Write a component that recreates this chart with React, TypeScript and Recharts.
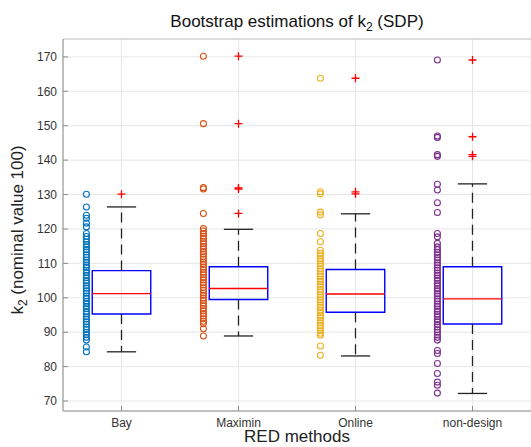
import React from 'react';
import {
  ComposedChart, Scatter, XAxis, YAxis, CartesianGrid, ReferenceArea, ReferenceLine,
} from 'recharts';

const CATEGORIES = ['Bay', 'Maximin', 'Online', 'non-design'];
const POINT_COLORS = ['#0072BD', '#D95319', '#EDB120', '#7E2F8E'];
const Y_TICKS = [70, 80, 90, 100, 110, 120, 130, 140, 150, 160, 170];

// bootstrap samples (circles left of each box)
const bayValues = [
  130.1, 126.4, 124.0, 123.1, 121.7, 120.6, 118.7, 117.8, 117.0, 116.3, 115.5, 114.8, 114.0,
  113.3, 112.5, 111.8, 111.0, 110.3, 109.5, 108.8, 108.0, 107.3, 106.5, 105.8, 105.0, 104.3,
  103.5, 102.8, 102.0, 101.3, 100.5, 99.8, 99.0, 98.3, 97.5, 96.8, 96.0, 95.3, 94.5, 93.8,
  93.0, 92.3, 91.5, 90.8, 90.0, 89.3, 88.5, 87.7, 85.7, 84.3,
];
const maximinValues = [
  170.2, 150.6, 132.0, 131.6, 124.5, 120.1, 119.4, 118.7, 117.9, 117.2, 116.4, 115.7, 114.9,
  114.2, 113.4, 112.7, 111.9, 111.2, 110.4, 109.7, 108.9, 108.2, 107.4, 106.7, 105.9, 105.2,
  104.4, 103.7, 102.9, 102.2, 101.4, 100.7, 99.9, 99.2, 98.4, 97.7, 96.9, 96.2, 95.4, 94.7,
  93.9, 93.2, 92.5, 91.0, 88.9,
];
const onlineValues = [
  163.8, 130.8, 130.2, 124.9, 124.1, 118.7, 116.3, 113.8, 112.9, 112.2, 111.4, 110.7, 109.9,
  109.2, 108.4, 107.7, 106.9, 106.2, 105.4, 104.7, 103.9, 103.2, 102.4, 101.7, 100.9, 100.2,
  99.4, 98.7, 97.9, 97.2, 96.4, 95.7, 94.9, 94.2, 93.4, 92.7, 91.9, 91.2, 90.4, 89.7, 89.1,
  86.0, 83.3,
];
const nonDesignValues = [
  169.1, 147.0, 146.6, 141.6, 141.1, 133.0, 131.3, 127.6, 124.8, 118.7, 117.7, 115.8, 114.8,
  114.0, 113.2, 112.5, 111.7, 111.0, 110.2, 109.5, 108.7, 108.0, 107.2, 106.5, 105.7, 105.0,
  104.2, 103.5, 102.7, 102.0, 101.2, 100.5, 99.7, 99.0, 98.2, 97.5, 96.7, 96.0, 95.2, 94.5,
  93.7, 93.0, 92.2, 91.5, 90.7, 90.0, 89.2, 88.5, 87.7, 84.7, 83.8, 80.9, 78.0, 75.5, 74.6, 72.3,
];
const SAMPLES = [bayValues, maximinValues, onlineValues, nonDesignValues];

// box statistics
const lowerWhiskers = [84.3, 88.9, 83.1, 72.2];
const q1Values = [95.3, 99.5, 95.8, 92.4];
const medianValues = [101.2, 102.7, 101.1, 99.7];
const q3Values = [107.9, 109.0, 108.2, 109.0];
const upperWhiskers = [126.4, 119.9, 124.4, 133.1];
const outliers = [
  [130.1],
  [170.2, 150.6, 131.9, 131.6, 124.5],
  [163.8, 130.8, 130.2],
  [169.1, 146.8, 141.6, 141.1],
];

const SAMPLE_OFFSET = -0.3;
const BOX_HALF = 0.25;
const CAP_HALF = 0.125;
const FONT = '"Liberation Sans", Arial, Helvetica, sans-serif';

const sampleData = SAMPLES.map((vals, i) => vals.map((y) => ({ x: i + 0.5 + SAMPLE_OFFSET, y })));
const outlierData = outliers.map((vals, i) => vals.map((y) => ({ x: i + 0.5, y })));

const circleShape = (color: string) => (props: any) => (
  <circle cx={props.cx} cy={props.cy} r={3} fill="none" stroke={color} strokeWidth={1.1} />
);

const plusShape = (props: any) => (
  <path
    d={`M${props.cx - 4},${props.cy}h8M${props.cx},${props.cy - 4}v8`}
    stroke="#ff0000"
    strokeWidth={1.3}
    fill="none"
  />
);

export default function App() {
  return (
    <div style={{ position: 'absolute', left: 0, top: 0, width: 531, height: 447, background: '#fff' }}>
      <ComposedChart width={531} height={447} margin={{ top: 38, right: 0, bottom: 11, left: 23 }}>
        <CartesianGrid stroke="#e6e6e6" />
        <XAxis
          dataKey="x"
          type="number"
          domain={[0, 4]}
          ticks={[0.5, 1.5, 2.5, 3.5]}
          tickFormatter={(v: number) => CATEGORIES[Math.floor(v)]}
          height={25}
          tickSize={-5}
          tickMargin={12}
          stroke="#8c8c8c"
          tick={{ fill: '#333', fontSize: 12, fontFamily: FONT }}
          allowDataOverflow
        />
        <XAxis
          xAxisId="top"
          orientation="top"
          type="number"
          domain={[0, 4]}
          ticks={[0.5, 1.5, 2.5, 3.5]}
          tickFormatter={() => ''}
          height={1}
          tickSize={-5}
          stroke="#c8c8c8"
          allowDataOverflow
        />
        <YAxis
          dataKey="y"
          type="number"
          domain={[67.1, 175.2]}
          ticks={Y_TICKS}
          width={40}
          tickSize={-5}
          tickMargin={11}
          stroke="#8c8c8c"
          tick={{ fill: '#333', fontSize: 12, fontFamily: FONT }}
          allowDataOverflow
        />

        {CATEGORIES.map((c, i) => (
          <ReferenceArea
            key={`box-${c}`}
            x1={i + 0.5 - BOX_HALF}
            x2={i + 0.5 + BOX_HALF}
            y1={q1Values[i]}
            y2={q3Values[i]}
            fill="none"
            fillOpacity={0}
            stroke="#0000ff"
            strokeWidth={1.4}
            strokeOpacity={1}
          />
        ))}
        {CATEGORIES.map((c, i) => (
          <ReferenceLine
            key={`wu-${c}`}
            segment={[{ x: i + 0.5, y: q3Values[i] }, { x: i + 0.5, y: upperWhiskers[i] }]}
            stroke="#222"
            strokeWidth={1.3}
            strokeDasharray="10 6"
          />
        ))}
        {CATEGORIES.map((c, i) => (
          <ReferenceLine
            key={`wl-${c}`}
            segment={[{ x: i + 0.5, y: q1Values[i] }, { x: i + 0.5, y: lowerWhiskers[i] }]}
            stroke="#222"
            strokeWidth={1.3}
            strokeDasharray="10 6"
          />
        ))}
        {CATEGORIES.map((c, i) => (
          <ReferenceLine
            key={`cu-${c}`}
            segment={[{ x: i + 0.5 - CAP_HALF, y: upperWhiskers[i] }, { x: i + 0.5 + CAP_HALF, y: upperWhiskers[i] }]}
            stroke="#222"
            strokeWidth={1.3}
          />
        ))}
        {CATEGORIES.map((c, i) => (
          <ReferenceLine
            key={`cl-${c}`}
            segment={[{ x: i + 0.5 - CAP_HALF, y: lowerWhiskers[i] }, { x: i + 0.5 + CAP_HALF, y: lowerWhiskers[i] }]}
            stroke="#222"
            strokeWidth={1.3}
          />
        ))}
        {CATEGORIES.map((c, i) => (
          <ReferenceLine
            key={`med-${c}`}
            segment={[{ x: i + 0.5 - BOX_HALF, y: medianValues[i] }, { x: i + 0.5 + BOX_HALF, y: medianValues[i] }]}
            stroke="#ff0000"
            strokeWidth={1.3}
          />
        ))}

        {CATEGORIES.map((c, i) => (
          <Scatter
            key={`pts-${c}`}
            data={sampleData[i]}
            shape={circleShape(POINT_COLORS[i])}
            isAnimationActive={false}
          />
        ))}
        {CATEGORIES.map((c, i) => (
          <Scatter
            key={`out-${c}`}
            data={outlierData[i]}
            shape={plusShape}
            isAnimationActive={false}
          />
        ))}
      </ComposedChart>

      <svg
        width={531}
        height={447}
        style={{ position: 'absolute', left: 0, top: 0, pointerEvents: 'none' }}
        fontFamily={FONT}
      >
        <text x={297} y={27} textAnchor="middle" fontSize={17} fill="#111">
          Bootstrap estimations of k
          <tspan dy={4} fontSize={12}>2</tspan>
          <tspan dy={-4}> (SDP)</tspan>
        </text>
        <text x={297} y={442} textAnchor="middle" fontSize={17} fill="#222">
          RED methods
        </text>
        <text transform="translate(23,230) rotate(-90)" textAnchor="middle" fontSize={17} fill="#222">
          k
          <tspan dy={4} fontSize={12}>2</tspan>
          <tspan dy={-4}> (nominal value 100)</tspan>
        </text>
      </svg>
    </div>
  );
}
